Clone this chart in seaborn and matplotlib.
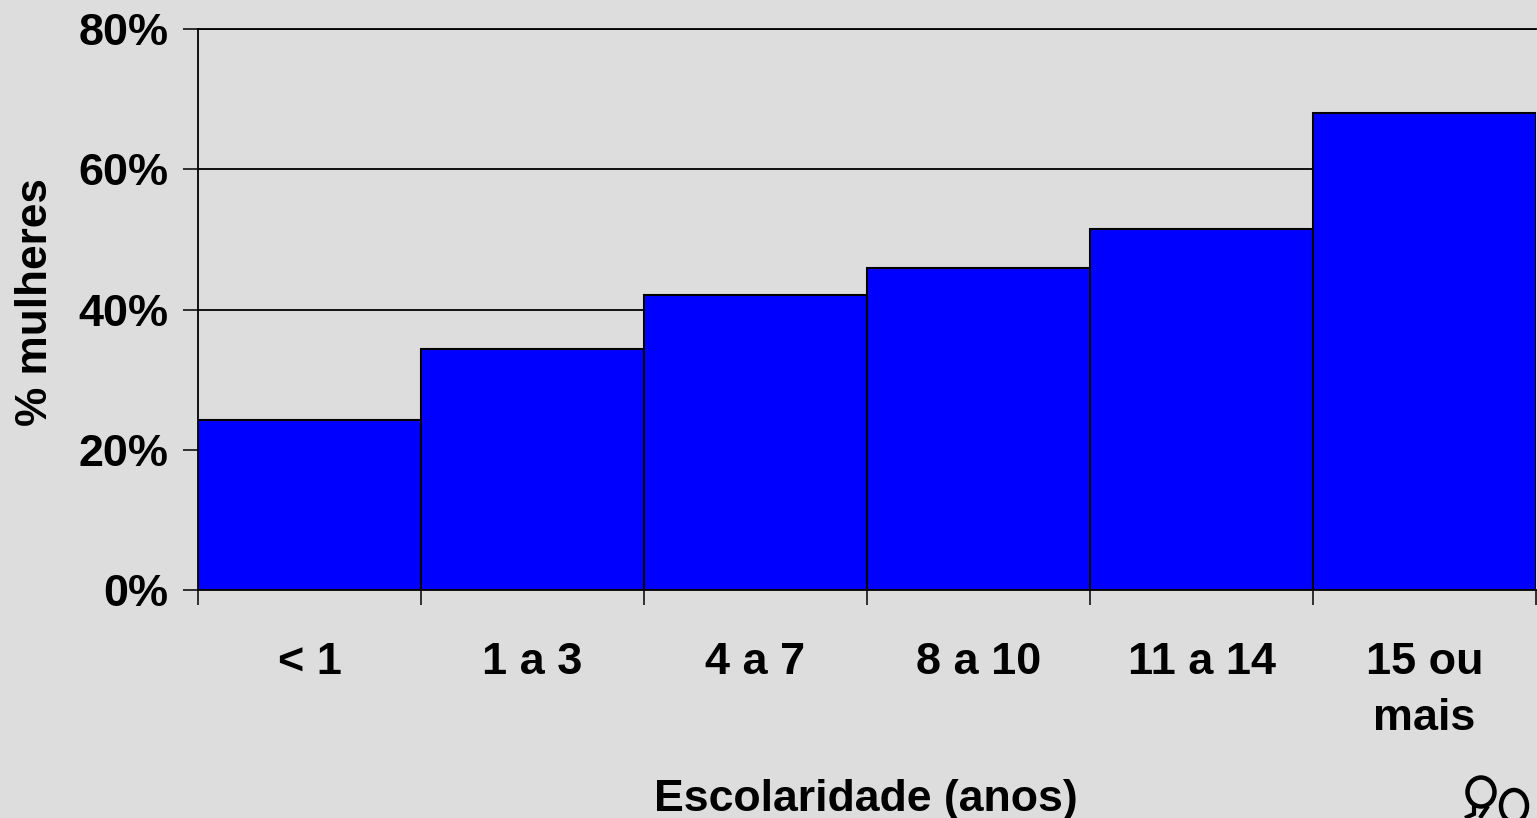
import matplotlib
matplotlib.use("Agg")
import matplotlib.pyplot as plt
import pandas as pd
import seaborn as sns
from matplotlib.patches import Ellipse, PathPatch
from matplotlib.path import Path

categories = ["< 1", "1 a 3", "4 a 7", "8 a 10", "11 a 14", "15 ou\nmais"]
values = [24.2, 34.4, 42.1, 45.9, 51.5, 68.0]
y_ticks = [0, 20, 40, 60, 80]
y_tick_labels = ["0%", "20%", "40%", "60%", "80%"]

BG = "#DDDDDD"
sns.set_theme(style="white")
plt.rcParams["font.family"] = ["Liberation Sans", "DejaVu Sans"]
plt.rcParams["font.weight"] = "bold"

W, H = 1537, 818
fig = plt.figure(figsize=(W / 100, H / 100), dpi=100, facecolor=BG)
ax = fig.add_axes([198 / W, 1 - 590 / H, (1536 - 198) / W, (590 - 29) / H], facecolor=BG)

df = pd.DataFrame({"cat": categories, "val": values})
sns.barplot(data=df, x="cat", y="val", order=categories, width=1.0, color="#0000FF",
            saturation=1, edgecolor="black", linewidth=1.5, ax=ax, zorder=3)

ax.set_xlim(-0.5, 5.5)
ax.set_ylim(0, 80)
ax.set_yticks(y_ticks)
ax.set_yticklabels(y_tick_labels, fontsize=32.4, fontweight="bold", color="black")
ax.yaxis.grid(True, color="black", linewidth=1.3, zorder=1)
ax.xaxis.grid(False)
ax.set_axisbelow(True)

# Category labels sit between tick marks: major ticks unlabeled at the bin edges
ax.set_xticks([i - 0.5 for i in range(len(categories) + 1)])
ax.set_xticklabels([])
ax.set_xticks(range(len(categories)), minor=True)
ax.set_xticklabels(categories, minor=True, fontsize=32.4, fontweight="bold",
                   color="black", linespacing=1.48)
ax.tick_params(axis="x", which="major", length=10.5, width=1.1, color="black", bottom=True)
ax.tick_params(axis="x", which="minor", length=0, pad=37.5)
ax.tick_params(axis="y", which="major", length=10.5, width=1.1, color="black", left=True, pad=11)

for s in ["top", "left", "bottom"]:
    ax.spines[s].set_visible(True)
    ax.spines[s].set_color("black")
    ax.spines[s].set_linewidth(1.3)
ax.spines["right"].set_visible(False)

ax.set_xlabel("")
ax.set_ylabel("")
fig.text(866 / W, 1 - 799 / H, "Escolaridade (anos)", fontsize=32.1, fontweight="bold",
         ha="center", va="center", color="black")
fig.text(35.5 / W, 1 - 302.5 / H, "% mulheres", fontsize=31.8, fontweight="bold", rotation=90,
         ha="center", va="center", color="black")

# Small hand-drawn logo, bottom right corner
t = fig.transFigure
fig.add_artist(Ellipse((1481 / W, 1 - 792 / H), 27 / W, 29 / H, transform=t,
                       fill=False, ec="black", lw=3.2))
fig.add_artist(Ellipse((1514 / W, 1 - 806 / H), 26 / W, 32 / H, transform=t,
                       fill=False, ec="black", lw=3.2))
stem = Path([(1474 / W, 1 - 806 / H), (1474 / W, 1 - 814 / H), (1465 / W, 1 - 818 / H)])
fig.add_artist(PathPatch(stem, transform=t, fill=False, ec="black", lw=3))
stem2 = Path([(1488 / W, 1 - 806 / H), (1484 / W, 1 - 812 / H), (1480 / W, 1 - 818 / H)])
fig.add_artist(PathPatch(stem2, transform=t, fill=False, ec="black", lw=3))

fig.savefig("out.png", dpi=100, facecolor=BG)
